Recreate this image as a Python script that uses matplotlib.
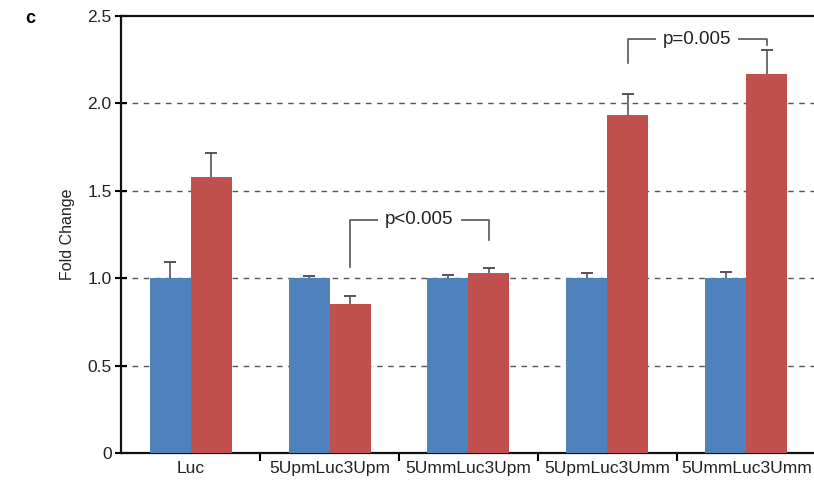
import matplotlib
matplotlib.use("Agg")
import matplotlib.pyplot as plt
import numpy as np

plt.rcParams['font.family'] = ['Liberation Sans', 'DejaVu Sans']

categories = ["Luc", "5UpmLuc3Upm", "5UmmLuc3Upm", "5UpmLuc3Umm", "5UmmLuc3Umm"]
blue_vals = [1.0, 1.0, 1.0, 1.0, 1.0]
blue_err = [0.09, 0.012, 0.02, 0.03, 0.035]
red_vals = [1.58, 0.85, 1.03, 1.935, 2.168]
red_err = [0.135, 0.05, 0.03, 0.12, 0.14]
yticks = [0, 0.5, 1.0, 1.5, 2.0, 2.5]
ytick_labels = ["0", "0.5", "1.0", "1.5", "2.0", "2.5"]

blue = "#4F81BD"
red = "#C0504D"
ecol = "#555555"

fig = plt.figure(figsize=(8.14, 4.87), dpi=100)
ax = fig.add_axes([0.149, 0.070, 0.853, 0.897])

x = np.arange(len(categories))
w = 0.295
ax.bar(x - w / 2, blue_vals, w, color=blue, zorder=3)
ax.bar(x + w / 2, red_vals, w, color=red, zorder=3)


def upper_err(xs, vals, errs):
    xs = np.asarray(xs)
    vals = np.asarray(vals)
    errs = np.asarray(errs)
    ax.vlines(xs, vals, vals + errs, color=ecol, linewidth=1.2, zorder=4)
    ax.errorbar(xs, vals + errs, yerr=np.zeros(len(xs)), fmt='none',
                ecolor=ecol, elinewidth=1.2, capsize=4, capthick=1.2, zorder=4)


upper_err(x - w / 2, blue_vals, blue_err)
upper_err(x + w / 2, red_vals, red_err)

ax.set_xlim(-0.5, 4.5)
ax.set_ylim(0, 2.5)
ax.set_yticks(yticks)
ax.set_yticklabels(ytick_labels, fontsize=12.5, color="#222222")
ax.set_xticks(x)
ax.set_xticklabels(categories, fontsize=12.5, color="#222222")
ax.set_xticks(np.arange(len(categories) - 1) + 0.5, minor=True)
ax.tick_params(axis='x', which='major', length=0, pad=6)
ax.tick_params(axis='x', which='minor', length=6, width=1.5, direction='out')
ax.tick_params(axis='y', which='major', length=8, width=1.5, direction='inout', pad=3)

for yv in [0.5, 1.0, 1.5, 2.0]:
    ax.axhline(yv, color="#555555", linestyle=(0, (4, 4)), linewidth=1.0, zorder=1)

for s in ['left', 'bottom', 'top']:
    ax.spines[s].set_linewidth(1.6)
    ax.spines[s].set_color("#111111")
ax.spines['right'].set_visible(False)

ax.set_ylabel("Fold Change", fontsize=11.5, labelpad=9, color="#222222")

# significance brackets
bk = "#555555"
x1, x2 = 1 + w / 2, 2 + w / 2
ax.plot([x1, x1, x2, x2], [1.064, 1.335, 1.335, 1.22], color=bk, lw=1.2, zorder=5)
ax.text((x1 + x2) / 2, 1.335, "p<0.005", ha='center', va='center', fontsize=13.5,
        color="#222222", zorder=6,
        bbox=dict(facecolor='white', edgecolor='none', pad=5))
x3, x4 = 3 + w / 2, 4 + w / 2
ax.plot([x3, x3, x4, x4], [2.233, 2.368, 2.368, 2.334], color=bk, lw=1.2, zorder=5)
ax.text((x3 + x4) / 2, 2.368, "p=0.005", ha='center', va='center', fontsize=13.5,
        color="#222222", zorder=6,
        bbox=dict(facecolor='white', edgecolor='none', pad=5))

fig.text(0.037, 0.963, "c", fontsize=13, fontweight='bold', ha='center', va='center')

fig.savefig("out.png", dpi=100)
